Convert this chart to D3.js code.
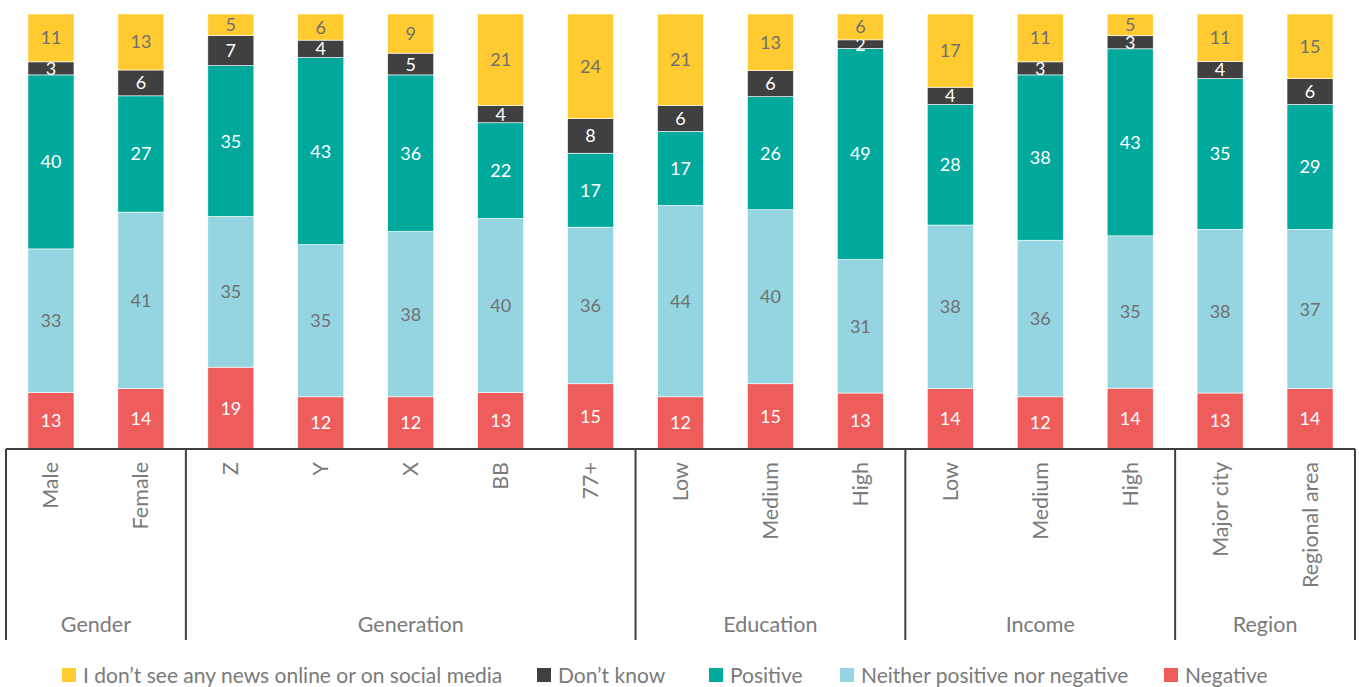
<!DOCTYPE html>
<html><head><meta charset="utf-8">
<script src="https://cdn.jsdelivr.net/npm/d3@7"></script>
<style>body{margin:0;background:#fff;} svg{display:block;font-family:Lato,"Open Sans",sans-serif;}</style>
</head><body><svg id="c" width="1359" height="687"></svg>
<script>
const categories = ["Male","Female","Z","Y","X","BB","77+","Low","Medium","High","Low","Medium","High","Major city","Regional area"];
const groups = [
  {name:"Gender", start:0, end:1},
  {name:"Generation", start:2, end:6},
  {name:"Education", start:7, end:9},
  {name:"Income", start:10, end:12},
  {name:"Region", start:13, end:14}
];
const seriesNames = ["Negative","Neither positive nor negative","Positive","Don\u2019t know","I don\u2019t see any news online or on social media"];
const negative = [13,14,19,12,12,13,15,12,15,13,14,12,14,13,14];
const neither  = [33,41,35,35,38,40,36,44,40,31,38,36,35,38,37];
const positive = [40,27,35,43,36,22,17,17,26,49,28,38,43,35,29];
const dontKnow = [3,6,7,4,5,4,8,6,6,2,4,3,3,4,6];
const noNews   = [11,13,5,6,9,21,24,21,13,6,17,11,5,11,15];
const seriesValues = [negative, neither, positive, dontKnow, noNews];
const colors = ["#EF5C5C","#95D5E1","#00A99C","#404040","#FFCB31"];
const labelColors = ["#ffffff","#707070","#ffffff","#ffffff","#707070"];
const legendOrder = [4,3,2,1,0];

const svg = d3.select("#c");
const x = d3.scaleBand().domain(d3.range(categories.length)).range([6,1355]).paddingInner(0.488).paddingOuter(0.244);
const y = d3.scaleLinear().domain([0,1]).range([449,14]);

const rows = categories.map((c,i)=>{
  const r = {i};
  seriesValues.forEach((s,k)=>r["s"+k]=s[i]);
  return r;
});
const totals = rows.map((r,i)=>d3.sum(seriesValues,s=>s[i]));
const stack = d3.stack().keys(seriesValues.map((s,k)=>"s"+k)).value((d,key)=>d[key]/totals[d.i]);
const stacked = stack(rows);

const gBars = svg.append("g");
stacked.forEach((layer,k)=>{
  const g = gBars.append("g");
  g.selectAll("rect").data(layer).join("rect")
    .attr("x",d=>x(d.data.i)).attr("width",x.bandwidth())
    .attr("y",d=>y(d[1])).attr("height",d=>y(d[0])-y(d[1]))
    .attr("fill",colors[k]).attr("stroke","#ffffff").attr("stroke-width",0.6);
  g.selectAll("text").data(layer).join("text")
    .attr("x",d=>x(d.data.i)+x.bandwidth()/2)
    .attr("y",d=>(y(d[0])+y(d[1]))/2)
    .attr("dy","0.36em").attr("text-anchor","middle")
    .attr("font-size",18).attr("fill",labelColors[k])
    .text((d)=>seriesValues[k][d.data.i]);
});

// axis
const axisG = svg.append("g");
axisG.append("line").attr("x1",6).attr("x2",1355).attr("y1",449).attr("y2",449).attr("stroke","#404040").attr("stroke-width",2);
const step = x.step();
const bounds = [groups[0].start].concat(groups.map(g=>g.end+1));
bounds.forEach(b=>{
  const xx = 6 + b*step;
  axisG.append("line").attr("x1",xx).attr("x2",xx).attr("y1",449).attr("y2",640).attr("stroke","#404040").attr("stroke-width",2);
});
axisG.selectAll("text.cat").data(categories).join("text").attr("class","cat")
  .attr("transform",(d,i)=>`translate(${x(i)+x.bandwidth()/2+7.5},462) rotate(-90)`)
  .attr("text-anchor","end").attr("font-size",21.5).attr("fill","#7a7a7a").text(d=>d);
axisG.selectAll("text.grp").data(groups).join("text").attr("class","grp")
  .attr("x",g=>6+ (g.start + g.end+1)/2*step).attr("y",632)
  .attr("text-anchor","middle").attr("font-size",21.5).attr("fill","#7a7a7a").text(g=>g.name);

// legend
const legendX = [62,537,709,840,1164];
const lg = svg.append("g");
legendOrder.forEach((k,j)=>{
  const it = lg.append("g").attr("transform",`translate(${legendX[j]},668)`);
  it.append("rect").attr("width",14).attr("height",14).attr("fill",colors[k]);
  it.append("text").attr("x",21).attr("y",15).attr("font-size",21).attr("fill","#7a7a7a").text(seriesNames[k]);
});
</script></body></html>
